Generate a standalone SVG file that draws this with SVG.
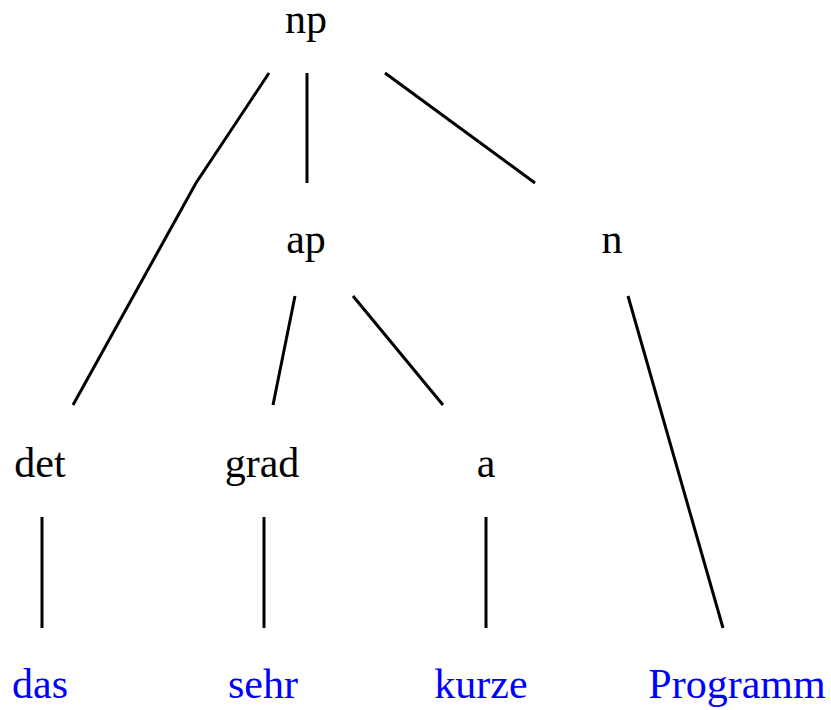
<svg xmlns="http://www.w3.org/2000/svg" width="831" height="710" viewBox="0 0 831 710">
<style>
text{font-family:"Liberation Serif","Times New Roman",serif;font-size:42px;text-anchor:middle;fill:#000}
text.w{fill:#0000ff}
.e{stroke:#000;stroke-width:3;fill:none}
</style>
<rect width="831" height="710" fill="#fff"/>
<g id="connectors">
<polyline class="e" points="269,73 196,183 73,405"/>
<line class="e" x1="307" y1="73" x2="307" y2="183"/>
<line class="e" x1="385" y1="73" x2="535" y2="183"/>
<line class="e" x1="295" y1="296" x2="273" y2="405"/>
<line class="e" x1="353" y1="296" x2="443" y2="405"/>
<line class="e" x1="628" y1="296" x2="723" y2="628"/>
<line class="e" x1="42" y1="517" x2="42" y2="628"/>
<line class="e" x1="264" y1="517" x2="264" y2="628"/>
<line class="e" x1="486" y1="517" x2="486" y2="628"/>
</g>
<g id="np"><text x="306" y="33">np</text></g>
<g id="ap"><text x="306" y="253">ap</text></g>
<g id="n"><text x="612" y="253">n</text></g>
<g id="det"><text x="40" y="477">det</text></g>
<g id="grad"><text x="262" y="477">grad</text></g>
<g id="a"><text x="486" y="477">a</text></g>
<g id="das"><text class="w" x="40" y="698">das</text></g>
<g id="sehr"><text class="w" x="263" y="698">sehr</text></g>
<g id="kurze"><text class="w" x="481" y="698">kurze</text></g>
<g id="Programm"><text class="w" x="737" y="698">Programm</text></g>
</svg>
